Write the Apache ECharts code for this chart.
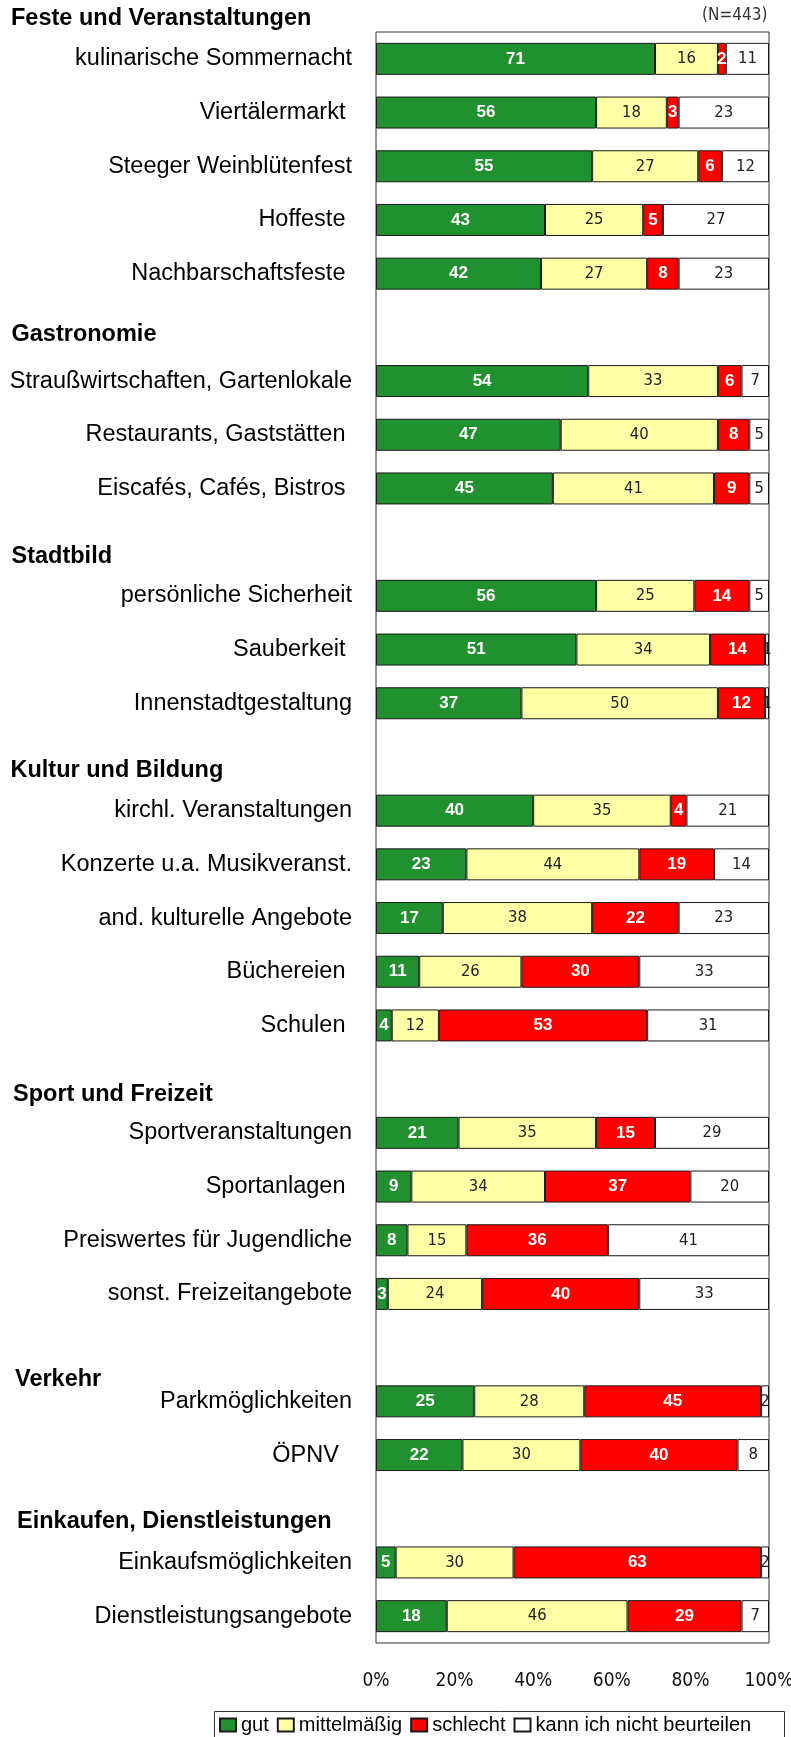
<!DOCTYPE html>
<html>
<head>
<meta charset="utf-8">
<script src="https://cdn.jsdelivr.net/npm/echarts@6/dist/echarts.min.js"></script>
<style>html,body{margin:0;padding:0;background:#fff}#c{width:791px;height:1737px}</style>
</head>
<body>
<div id="c"></div>
<script>
// Row categories (section gap rows carry the section header name and are left empty)
const categories = [
  'kulinarische Sommernacht', 'Viertälermarkt ', 'Steeger Weinblütenfest', 'Hoffeste ', 'Nachbarschaftsfeste ',
  'Gastronomie',
  'Straußwirtschaften, Gartenlokale', 'Restaurants, Gaststätten ', 'Eiscafés, Cafés, Bistros ',
  'Stadtbild',
  'persönliche Sicherheit', 'Sauberkeit ', 'Innenstadtgestaltung',
  'Kultur und Bildung',
  'kirchl. Veranstaltungen', 'Konzerte u.a. Musikveranst.', 'and. kulturelle Angebote', 'Büchereien ', 'Schulen ',
  'Sport und Freizeit',
  'Sportveranstaltungen', 'Sportanlagen ', 'Preiswertes für Jugendliche', 'sonst. Freizeitangebote',
  'Verkehr',
  'Parkmöglichkeiten', 'ÖPNV  ',
  'Einkaufen, Dienstleistungen',
  'Einkaufsmöglichkeiten', 'Dienstleistungsangebote'
];
const sectionHeaders = ['Feste und Veranstaltungen', 'Gastronomie', 'Stadtbild', 'Kultur und Bildung',
  'Sport und Freizeit', 'Verkehr', 'Einkaufen, Dienstleistungen'];
const seriesNames = ['gut', 'mittelmäßig', 'schlecht', 'kann ich nicht beurteilen'];
const gut      = [71,56,55,43,42, null, 54,47,45, null, 56,51,37, null, 40,23,17,11,4, null, 21,9,8,3, null, 25,22, null, 5,18];
const mittel   = [16,18,27,25,27, null, 33,40,41, null, 25,34,50, null, 35,44,38,26,12, null, 35,34,15,24, null, 28,30, null, 30,46];
const schlecht = [2,3,6,5,8, null, 6,8,9, null, 14,14,12, null, 4,19,22,30,53, null, 15,37,36,40, null, 45,40, null, 63,29];
const kann     = [11,23,12,27,23, null, 7,5,5, null, 5,1,1, null, 21,14,23,33,31, null, 29,20,41,33, null, 2,8, null, 2,7];
const xTicks = [0, 20, 40, 60, 80, 100];
const sampleNote = '(N=443)';

const SANS = '"Liberation Sans", Arial, sans-serif';
const NARROW = '"Liberation Sans Narrow", "Arial Narrow", "DejaVu Sans Condensed", sans-serif';
const colors = ['#21912F', '#FFFFA6', '#FF0000', '#FFFFFF'];
const headerSet = new Set(sectionHeaders);

function mkSeries(name, data, color, labelStyle) {
  return {
    name: name, type: 'bar', stack: 'all', data: data, barWidth: 32,
    itemStyle: { color: color, borderColor: '#1a1a1a', borderWidth: 1 },
    label: Object.assign({ show: true, position: 'inside' }, labelStyle),
    emphasis: { disabled: true }
  };
}
const boldWhite = { color: '#fff', fontWeight: 'bold', fontSize: 17, fontFamily: SANS };
const narrowDark = { color: '#222', fontSize: 16.5, fontFamily: NARROW };

const headerPos = [[11, 19], [11.5, 335], [11.5, 557], [10.5, 771], [13, 1095], [15, 1380], [17, 1522]];

const chart = echarts.init(document.getElementById('c'), null, { renderer: 'canvas' });
chart.setOption({
  animation: false,
  backgroundColor: '#fff',
  grid: {
    left: 376, right: 22, top: 32, bottom: 94, show: true, borderColor: '#333', borderWidth: 1,
    backgroundColor: 'transparent', containLabel: false, outerBoundsMode: 'none'
  },
  xAxis: {
    type: 'value', min: xTicks[0], max: xTicks[xTicks.length - 1], interval: 20,
    axisLine: { show: false }, axisTick: { show: false }, splitLine: { show: false },
    axisLabel: { formatter: '{value}%', margin: 29, fontSize: 19, fontFamily: NARROW, color: '#111' }
  },
  yAxis: {
    type: 'category', inverse: true, data: categories,
    axisLine: { show: false }, axisTick: { show: false }, splitLine: { show: false },
    axisLabel: {
      margin: 24, fontSize: 23.5, fontFamily: SANS, color: '#000',
      formatter: function (v) { return headerSet.has(v) ? '' : v; }
    }
  },
  legend: {
    data: seriesNames, left: 214, top: 1711, orient: 'horizontal',
    itemWidth: 16, itemHeight: 13, itemGap: 8, icon: 'rect',
    textStyle: { fontSize: 20, fontFamily: SANS, color: '#000' },
    padding: [4, 4, 8, 5], selectedMode: false
  },
  series: [
    mkSeries(seriesNames[0], gut, colors[0], boldWhite),
    mkSeries(seriesNames[1], mittel, colors[1], narrowDark),
    mkSeries(seriesNames[2], schlecht, colors[2], boldWhite),
    mkSeries(seriesNames[3], kann, colors[3], narrowDark)
  ],
  graphic: sectionHeaders.map(function (h, i) {
    return {
      type: 'text', x: headerPos[i][0], y: headerPos[i][1], silent: true,
      style: { text: h, font: 'bold 23.5px ' + SANS, fill: '#000', verticalAlign: 'middle' }
    };
  }).concat([{
    type: 'text', x: 702, y: 16, silent: true,
    style: { text: sampleNote, font: '17px ' + NARROW, fill: '#333', verticalAlign: 'middle' }
  }, {
    type: 'rect', silent: true, z: 0,
    shape: { x: 214.5, y: 1711.5, width: 570, height: 40 },
    style: { fill: 'none', stroke: '#333', lineWidth: 1 }
  }])
});
</script>
</body>
</html>
